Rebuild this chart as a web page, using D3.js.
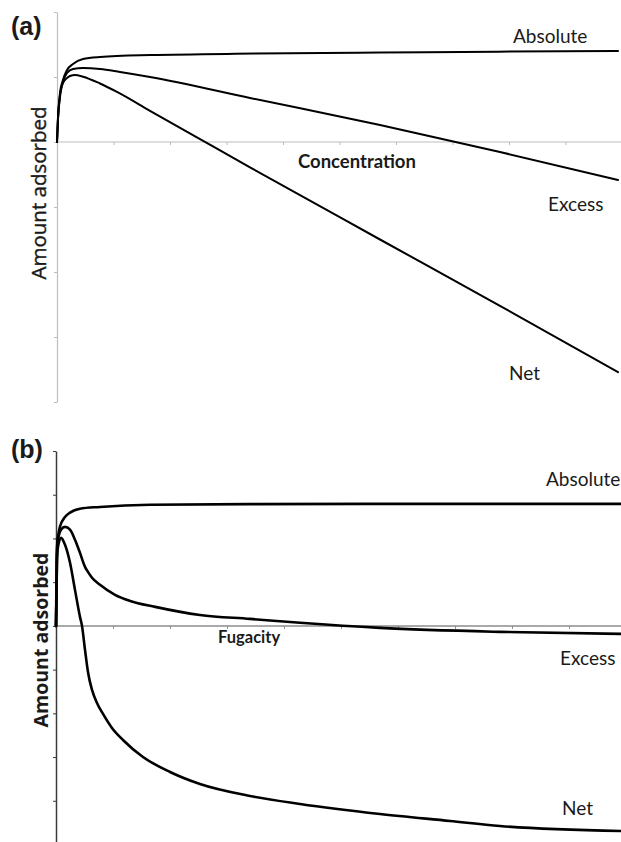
<!DOCTYPE html>
<html>
<head>
<meta charset="utf-8">
<script src="https://cdn.jsdelivr.net/npm/d3@7/dist/d3.min.js"></script>
<style>
  html, body { margin: 0; padding: 0; background: #fff; }
  svg { display: block; }
  text { font-family: Lato, "Open Sans", sans-serif; fill: #1a1a1a; }
</style>
</head>
<body>
<svg id="chart" width="621" height="842"></svg>
<script>
// ---------- Panel (a): amount adsorbed vs concentration ----------
const aAbsoluteX = [0, 0.018, 0.053, 0.106, 0.177, 0.283, 0.46, 0.76, 1.65, 3.5, 5.72, 7.8, 9.93];
const aAbsoluteY = [0, 0.385, 0.754, 0.954, 1.108, 1.2, 1.277, 1.308, 1.338, 1.36, 1.377, 1.39, 1.4];

const aExcessX = [0, 0.0177, 0.053, 0.106, 0.177, 0.283, 0.46, 0.761, 1.115, 1.646, 3.416, 5.717, 7.84, 9.93];
const aExcessY = [0, 0.369, 0.723, 0.923, 1.062, 1.123, 1.138, 1.123, 1.077, 1.0, 0.677, 0.262, -0.154, -0.585];

const aNetX = [0, 0.0177, 0.053, 0.106, 0.177, 0.23, 0.319, 0.46, 0.761, 1.062, 1.646, 2.5, 3.416, 5.717, 7.84, 9.93];
const aNetY = [0, 0.354, 0.692, 0.908, 0.985, 1.015, 1.031, 1.005, 0.9, 0.77, 0.48, 0.06, -0.39, -1.5, -2.52, -3.54];

const aYTicks = [-4, -3, -2, -1, 0, 1, 2];
const aXTicks = [1, 2, 3, 4, 5, 6, 7, 8, 9];

// ---------- Panel (b): amount adsorbed vs fugacity ----------
const bAbsoluteX = [0, 0.0175, 0.07, 0.158, 0.246, 0.42, 0.77, 1.65, 3.5, 5.68, 9.91];
const bAbsoluteY = [0, 1.81, 2.27, 2.49, 2.59, 2.68, 2.72, 2.77, 2.785, 2.79, 2.79];

const bExcessX = [0, 0.0175, 0.035, 0.088, 0.158, 0.246, 0.333, 0.421, 0.509, 0.561, 0.632, 0.772, 1.035, 1.3, 1.74, 2.526, 3.404, 4.281, 5.684, 7.789, 9.912];
const bExcessY = [0, 1.62, 1.97, 2.2, 2.265, 2.2, 1.97, 1.67, 1.35, 1.235, 1.1, 0.94, 0.71, 0.57, 0.435, 0.25, 0.16, 0.07, -0.046, -0.137, -0.183];

const bNetX = [0, 0.0175, 0.035, 0.088, 0.158, 0.246, 0.333, 0.421, 0.456, 0.509, 0.561, 0.632, 0.719, 0.825, 0.982, 1.175, 1.526, 2.0, 2.526, 3.404, 4.281, 5.684, 6.912, 7.789, 9.912];
const bNetY = [0, 1.51, 1.808, 2.014, 1.854, 1.442, 0.824, 0.206, 0, -0.549, -1.053, -1.465, -1.762, -2.014, -2.334, -2.609, -2.998, -3.341, -3.616, -3.89, -4.073, -4.302, -4.462, -4.577, -4.691];

const bYTicks = [-4, -3, -2, -1, 0, 1, 2, 3, 4];
const bXTicks = [1, 2, 3, 4, 5, 6, 7, 8, 9];

const svg = d3.select("#chart");
svg.append("rect").attr("width", 621).attr("height", 842).attr("fill", "#fff");

function zip(xs, ys) { return xs.map((x, i) => [x, ys[i]]); }

function panel(cfg) {
  const x = d3.scaleLinear().domain([0, 10]).range(cfg.xRange);
  const y = d3.scaleLinear().domain(cfg.yDomain).range(cfg.yRange);
  const g = svg.append("g");

  const xAxis = g.append("g")
    .attr("transform", `translate(0,${y(0)})`)
    .call(d3.axisBottom(x).tickValues(cfg.xTicks).tickSize(3).tickSizeOuter(0).tickFormat(""));
  xAxis.select(".domain").attr("stroke", cfg.xAxisColor).attr("stroke-width", cfg.xAxisWidth)
    .attr("d", `M${x(0)},0H${cfg.xAxisEnd}`);
  xAxis.selectAll(".tick line").attr("stroke", cfg.xAxisColor);

  const yAxis = g.append("g")
    .attr("transform", `translate(${x(0)},0)`)
    .call(d3.axisLeft(y).tickValues(cfg.yTicks).tickSize(3).tickSizeOuter(0).tickFormat(""));
  yAxis.select(".domain").attr("stroke", cfg.yAxisColor).attr("stroke-width", cfg.yAxisWidth);
  yAxis.selectAll(".tick line").attr("stroke", cfg.yAxisColor);

  const line = d3.line().x(d => x(d[0])).y(d => y(d[1])).curve(d3.curveMonotoneX);
  cfg.series.forEach(s => {
    g.append("path").datum(zip(s.x, s.y))
      .attr("fill", "none").attr("stroke", "#000")
      .attr("stroke-width", cfg.lineWidth)
      .attr("stroke-linejoin", "round").attr("stroke-linecap", "round")
      .attr("d", line);
  });

  cfg.labels.forEach(l => {
    g.append("text").attr("x", l.x).attr("y", l.y)
      .attr("font-size", l.size).attr("font-weight", l.weight || "normal")
      .style("font-family", l.family || null)
      .text(l.text);
  });

  const yl = g.append("text")
    .attr("transform", `translate(${cfg.yLabel.x},${cfg.yLabel.y}) rotate(-90)`)
    .attr("text-anchor", "middle")
    .attr("font-size", cfg.yLabel.size).attr("font-weight", cfg.yLabel.weight)
    .style("font-family", "'Open Sans', sans-serif")
    .text("Amount adsorbed");
  if (cfg.yLabel.stroke) yl.attr("stroke", "#1a1a1a").attr("stroke-width", cfg.yLabel.stroke);
}

panel({
  xRange: [57, 622], yDomain: [-4, 2], yRange: [402, 12],
  xTicks: aXTicks, yTicks: aYTicks, xAxisEnd: 621,
  xAxisColor: "#bdbdbd", xAxisWidth: 1.2, yAxisColor: "#bdbdbd", yAxisWidth: 1.2,
  lineWidth: 2,
  series: [
    { x: aAbsoluteX, y: aAbsoluteY },
    { x: aExcessX, y: aExcessY },
    { x: aNetX, y: aNetY }
  ],
  labels: [
    { text: "(a)", x: 11, y: 35, size: 25, weight: "bold", family: "'Liberation Sans', Arial, sans-serif" },
    { text: "Absolute", x: 513, y: 43, size: 19 },
    { text: "Concentration", x: 298, y: 168, size: 18.5, weight: "bold" },
    { text: "Excess", x: 548, y: 211, size: 19 },
    { text: "Net", x: 509, y: 380, size: 19 }
  ],
  yLabel: { x: 46, y: 193, size: 20.5, weight: "normal", stroke: 0.4 }
});

panel({
  xRange: [56, 626], yDomain: [-5, 4], yRange: [844.5, 451],
  xTicks: bXTicks, yTicks: bYTicks, xAxisEnd: 621,
  xAxisColor: "#8c8c8c", xAxisWidth: 1.5, yAxisColor: "#3a3a3a", yAxisWidth: 1.5,
  lineWidth: 2.6,
  series: [
    { x: bAbsoluteX, y: bAbsoluteY },
    { x: bExcessX, y: bExcessY },
    { x: bNetX, y: bNetY }
  ],
  labels: [
    { text: "(b)", x: 11, y: 458, size: 25, weight: "bold", family: "'Liberation Sans', Arial, sans-serif" },
    { text: "Absolute", x: 546, y: 486, size: 19 },
    { text: "Fugacity", x: 218, y: 643, size: 16.5, weight: "bold" },
    { text: "Excess", x: 560, y: 665, size: 19 },
    { text: "Net", x: 562, y: 815, size: 19 }
  ],
  yLabel: { x: 48, y: 640, size: 19.5, weight: "bold" }
});
</script>
</body>
</html>
